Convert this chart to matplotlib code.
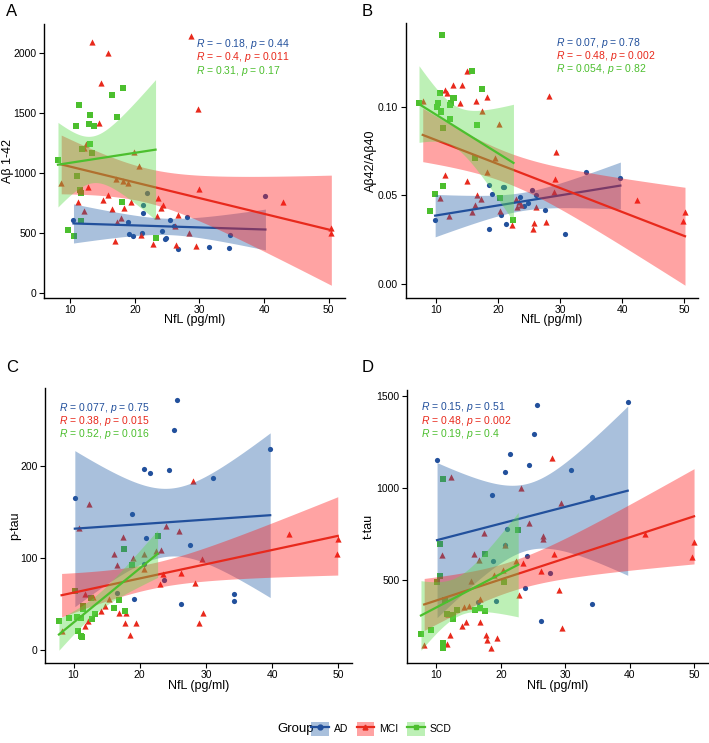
import numpy as np
import matplotlib
matplotlib.use("Agg")
import matplotlib.pyplot as plt
from matplotlib.patches import Patch
from matplotlib.lines import Line2D

plt.rcParams['font.family'] = ['Liberation Sans', 'DejaVu Sans']
plt.rcParams['mathtext.fontset'] = 'custom'
plt.rcParams['mathtext.rm'] = 'Liberation Sans'
plt.rcParams['mathtext.it'] = 'Liberation Sans:italic'

## == data ==
groups = ['AD', 'MCI', 'SCD']

# panel A: Abeta 1-42
a_ad_x = [10.5, 19.0, 19.1, 19.7, 21.1, 21.3, 24.2, 25.5, 26.1, 28.0, 24.6, 24.8, 26.7, 31.4, 34.5, 34.7, 40.2,
          21.3, 21.9]
a_ad_y = [605, 591, 491, 474, 497, 666, 513, 610, 560, 630, 449, 452, 361, 380, 374, 485, 810,
          727, 827]
a_mci_x = [28.7, 13.4, 15.8, 14.8, 14.5, 29.8, 12.4, 12.1, 19.9, 20.7, 8.6, 17.1, 18.1, 18.9, 12.8, 30.0,
           15.8, 23.6, 11.2, 15.1, 19.4, 42.9, 24.3, 24.0, 18.3, 16.4, 12.2, 23.5, 26.7, 17.8, 17.2, 26.2,
           28.4, 20.9, 17.0, 22.8, 26.4, 29.5, 50.4, 50.3]
a_mci_y = [2136, 2092, 1997, 1748, 1415, 1528, 1243, 1204, 1171, 1060, 913, 946, 929, 918, 877, 865,
           816, 791, 757, 771, 760, 757, 730, 702, 702, 694, 677, 641, 644, 624, 588, 558,
           497, 485, 433, 405, 397, 391, 541, 499]
a_scd_x = [8.1, 10.9, 11.4, 13.0, 12.9, 13.7, 16.5, 18.1, 17.2, 13.0, 13.3, 11.8, 11.0, 11.5, 11.6,
           18.0, 11.6, 9.7, 10.6, 23.2]
a_scd_y = [1110, 1390, 1562, 1479, 1404, 1390, 1645, 1706, 1467, 1237, 1168, 1196, 971, 860, 827,
           755, 594, 521, 474, 460]

# panel B: Abeta42/Abeta40
b_ad_x = [9.9, 18.5, 18.5, 19.1, 20.8, 21.0, 20.5, 21.3, 23.6, 24.2, 24.9, 25.5, 26.1, 27.5, 30.8, 34.2, 39.7]
b_ad_y = [0.036, 0.031, 0.056, 0.051, 0.055, 0.055, 0.039, 0.034, 0.049, 0.044, 0.046, 0.053, 0.050, 0.042,
          0.028, 0.063, 0.060]
b_mci_x = [7.9, 11.5, 11.8, 12.8, 14.2, 13.9, 15.1, 16.5, 18.2, 17.5, 20.2, 28.2, 29.4, 19.5, 18.3, 11.5,
           15.1, 29.2, 10.6, 12.1, 16.6, 17.2, 15.8, 16.3, 20.3, 22.2, 22.9, 23.0, 23.4, 23.7, 26.1, 25.8,
           25.7, 27.8, 29.0, 42.4, 50.1, 49.8]
b_mci_y = [0.1036, 0.1096, 0.1077, 0.1125, 0.1125, 0.1024, 0.1204, 0.1036, 0.1054, 0.0974, 0.0904, 0.1064,
           0.0743, 0.0713, 0.0633, 0.0614, 0.0582, 0.0594, 0.0485, 0.0382, 0.0504, 0.0481, 0.0404, 0.0444,
           0.0412, 0.0331, 0.0479, 0.0434, 0.0463, 0.0446, 0.0433, 0.0343, 0.0311, 0.0352, 0.0522, 0.0474,
           0.0404, 0.0354]
b_scd_x = [7.3, 11.0, 10.2, 10.4, 10.7, 10.9, 10.8, 12.3, 12.4, 12.7, 13.0, 12.3, 11.1, 15.8, 17.4, 16.7,
           16.3, 11.1, 9.9, 9.0, 20.3, 22.5]
b_scd_y = [0.1022, 0.1403, 0.1002, 0.1022, 0.1079, 0.0979, 0.0970, 0.1009, 0.1022, 0.1051, 0.1051, 0.0933,
           0.0882, 0.1200, 0.1101, 0.0899, 0.0710, 0.0551, 0.0509, 0.0410, 0.0487, 0.0360]

# panel C: p-tau
c_ad_x = [10.2, 18.8, 20.7, 21.5, 24.4, 25.1, 25.6, 31.0, 39.7, 21.0, 27.6, 20.6, 19.2, 26.3, 34.2, 34.2, 23.7, 16.6]
c_ad_y = [165, 148, 197, 192, 195, 239, 271, 187, 218, 122, 114, 93, 55, 50, 61, 53, 76, 62]
c_mci_x = [28.0, 12.4, 10.9, 17.5, 23.9, 26.0, 23.2, 22.4, 20.6, 16.1, 19.0, 16.6, 29.4, 42.5, 49.9, 49.8,
           26.2, 23.5, 23.0, 28.3, 11.8, 13.0, 15.4, 14.7, 14.2, 16.8, 17.9, 17.8, 19.5, 18.5, 29.6, 29.0,
           12.2, 11.8, 8.2, 20.6]
c_mci_y = [183, 159, 132, 123, 135, 129, 108, 107, 104, 104, 100, 92, 99, 126, 121, 104,
           83, 82, 72, 73, 61, 57, 55, 48, 42, 40, 40, 29, 29, 16, 40, 29,
           31, 26, 20, 88]
c_scd_x = [22.7, 17.6, 18.8, 10.2, 12.6, 16.9, 11.5, 16.1, 17.8, 13.3, 9.3, 10.5, 11.1, 12.8, 11.4, 7.8,
           10.7, 11.1, 11.3]
c_scd_y = [124, 110, 92, 64, 56, 54, 48, 45, 42, 39, 35, 36, 35, 33, 44, 31, 20, 15, 14]

# panel D: t-tau
d_ad_x = [10.1, 25.6, 39.7, 25.1, 21.4, 24.3, 30.9, 20.6, 18.7, 34.2, 20.9, 20.7, 18.8, 24.0, 27.6, 23.7,
          19.2, 34.2, 26.3, 16.4]
d_ad_y = [1150, 1451, 1464, 1293, 1186, 1125, 1098, 1087, 958, 949, 776, 686, 603, 628, 536, 457,
          383, 365, 275, 377]
d_mci_x = [27.9, 12.3, 23.1, 29.3, 24.4, 26.6, 26.6, 17.4, 10.9, 15.9, 16.6, 28.3, 20.6, 42.4, 50.0, 49.7,
           26.3, 23.5, 22.4, 20.3, 19.0, 15.3, 29.1, 22.9, 16.8, 15.0, 14.3, 14.6, 14.0, 16.7, 12.1, 17.7,
           17.8, 19.4, 11.7, 18.4, 29.5, 8.1, 11.8]
d_mci_y = [1161, 1057, 997, 918, 810, 738, 722, 754, 635, 642, 608, 640, 686, 747, 704, 621,
           545, 592, 599, 552, 523, 491, 446, 415, 397, 359, 350, 271, 246, 271, 197, 197,
           170, 185, 152, 127, 239, 147, 311]
d_scd_x = [11.0, 10.5, 10.6, 22.7, 17.5, 10.1, 11.4, 11.6, 12.5, 12.6, 13.2, 16.0, 16.8, 17.6, 7.6, 9.2,
           11.0, 11.1, 11.0, 20.5]
d_scd_y = [1046, 693, 522, 770, 641, 489, 392, 314, 307, 284, 336, 336, 347, 332, 203, 226,
           158, 145, 131, 489]

ylabels = ['Aβ 1-42', 'Aβ42/Aβ40', 'p-tau', 't-tau']
letters = ['A', 'B', 'C', 'D']
stats = [[('− 0.18', '0.44'), ('− 0.4', '0.011'), ('0.31', '0.17')],
         [('0.07', '0.78'), ('− 0.48', '0.002'), ('0.054', '0.82')],
         [('0.077', '0.75'), ('0.38', '0.015'), ('0.52', '0.016')],
         [('0.15', '0.51'), ('0.48', '0.002'), ('0.19', '0.4')]]

## == styling ==
line_col = {'AD': '#22509C', 'MCI': '#E8291C', 'SCD': '#4CBF2E'}
band_col = {'AD': '#2862A8', 'MCI': '#FF1A1A', 'SCD': '#5CDB4A'}
marker = {'AD': 'o', 'MCI': '^', 'SCD': 's'}
msize = {'AD': 14, 'MCI': 20, 'SCD': 14}

W, H = 709, 743
fig = plt.figure(figsize=(W / 100, H / 100), dpi=100)

def frac(l, r, t, b):
    return [l / W, 1 - b / H, (r - l) / W, (b - t) / H]

axes_px = [(44.3, 345.0, 24.0, 297.7), (405.7, 698.3, 23.0, 297.7),
           (45.0, 351.7, 388.0, 662.7), (407.3, 707.7, 390.0, 662.7)]
letter_px = [(6, 12), (362, 12), (6, 368), (362, 368)]
ann_px = [(195.7, 44.3), (556.0, 42.7), (59.3, 407.7), (420.7, 407.3)]
ylab_x = [8, 371, 15, 369]
xlab_y = [320, 320, 686, 686]
tick_pad = [2, 2, 1.5, 1.5]

panels = [
    [(a_ad_x, a_ad_y), (a_mci_x, a_mci_y), (a_scd_x, a_scd_y)],
    [(b_ad_x, b_ad_y), (b_mci_x, b_mci_y), (b_scd_x, b_scd_y)],
    [(c_ad_x, c_ad_y), (c_mci_x, c_mci_y), (c_scd_x, c_scd_y)],
    [(d_ad_x, d_ad_y), (d_mci_x, d_mci_y), (d_scd_x, d_scd_y)],
]
yticks = [[0, 500, 1000, 1500, 2000], [0.0, 0.05, 0.10], [0, 100, 200], [500, 1000, 1500]]


def t975(df):
    # Cornish-Fisher expansion of the student t quantile
    z = 1.959964
    return (z + (z**3 + z) / (4 * df) + (5 * z**5 + 16 * z**3 + 3 * z) / (96 * df**2)
            + (3 * z**7 + 19 * z**5 + 17 * z**3 - 15 * z) / (384 * df**3))


def linfit(x, y):
    x, y = np.asarray(x, float), np.asarray(y, float)
    n = len(x)
    b, a = np.polyfit(x, y, 1)
    res = y - (a + b * x)
    s = np.sqrt(np.sum(res**2) / (n - 2))
    xx = np.linspace(x.min(), x.max(), 80)
    se = s * np.sqrt(1 / n + (xx - x.mean())**2 / np.sum((x - x.mean())**2))
    yy = a + b * xx
    return xx, yy, yy - t975(n - 2) * se, yy + t975(n - 2) * se


for i, pdata in enumerate(panels):
    l, r, t, b = axes_px[i]
    ax = fig.add_axes(frac(l, r, t, b))
    for g, (x, y) in zip(groups, pdata):
        ax.scatter(x, y, s=msize[g], marker=marker[g], color=line_col[g], linewidths=0, zorder=1)
    for g, (x, y) in zip(groups, pdata):
        xx, yy, lo, hi = linfit(x, y)
        ax.fill_between(xx, lo, hi, color=band_col[g], alpha=0.4, linewidth=0, zorder=2)
        ax.plot(xx, yy, color=line_col[g], lw=1.6, zorder=2)
    ax.margins(x=0.05, y=0.05)
    ax.set_xticks([10, 20, 30, 40, 50])
    ax.set_yticks(yticks[i])
    if i == 1:
        ax.set_yticklabels(['0.00', '0.05', '0.10'])
    for sp in ('top', 'right'):
        ax.spines[sp].set_visible(False)
    for sp in ('left', 'bottom'):
        ax.spines[sp].set_linewidth(1.0)
    ax.tick_params(labelsize=7.5, length=3.5, width=0.8, pad=2, colors='black')
    ax.tick_params(axis='x', pad=tick_pad[i])
    fig.text((l + r) / 2 / W, 1 - xlab_y[i] / H, 'NfL (pg/ml)', fontsize=9, ha='center', va='center')
    fig.text(ylab_x[i] / W, 1 - (t + b) / 2 / H, ylabels[i], fontsize=9, rotation=90,
             ha='center', va='center')
    lx, ly = letter_px[i]
    fig.text(lx / W, 1 - ly / H, letters[i], fontsize=12, va='center', ha='left')
    axp, ayp = ann_px[i]
    for k, g in enumerate(groups):
        rr, p = stats[i][k]
        fig.text(axp / W, 1 - (ayp + 13.2 * k) / H, r'$\it{R}$ = %s, $\it{p}$ = %s' % (rr, p),
                 fontsize=7.5, color=line_col[g], va='center', ha='left')

## == legend ==
handles = [(Patch(facecolor=band_col[g], alpha=0.4, edgecolor='none'),
            Line2D([], [], color=line_col[g], lw=1.6, marker=marker[g], markersize=3.5))
           for g in groups]
fig.text(277 / W, 1 - 729 / H, 'Group', fontsize=9.5, va='center', ha='left')
fig.legend(handles, groups, loc='center left', bbox_to_anchor=(311 / W, 1 - 729 / H), ncol=3,
           frameon=False, fontsize=7.5, handlelength=1.7, handleheight=1.8, handletextpad=0.5,
           columnspacing=0.8, borderaxespad=0, borderpad=0)

fig.savefig('out.png', dpi=100)
